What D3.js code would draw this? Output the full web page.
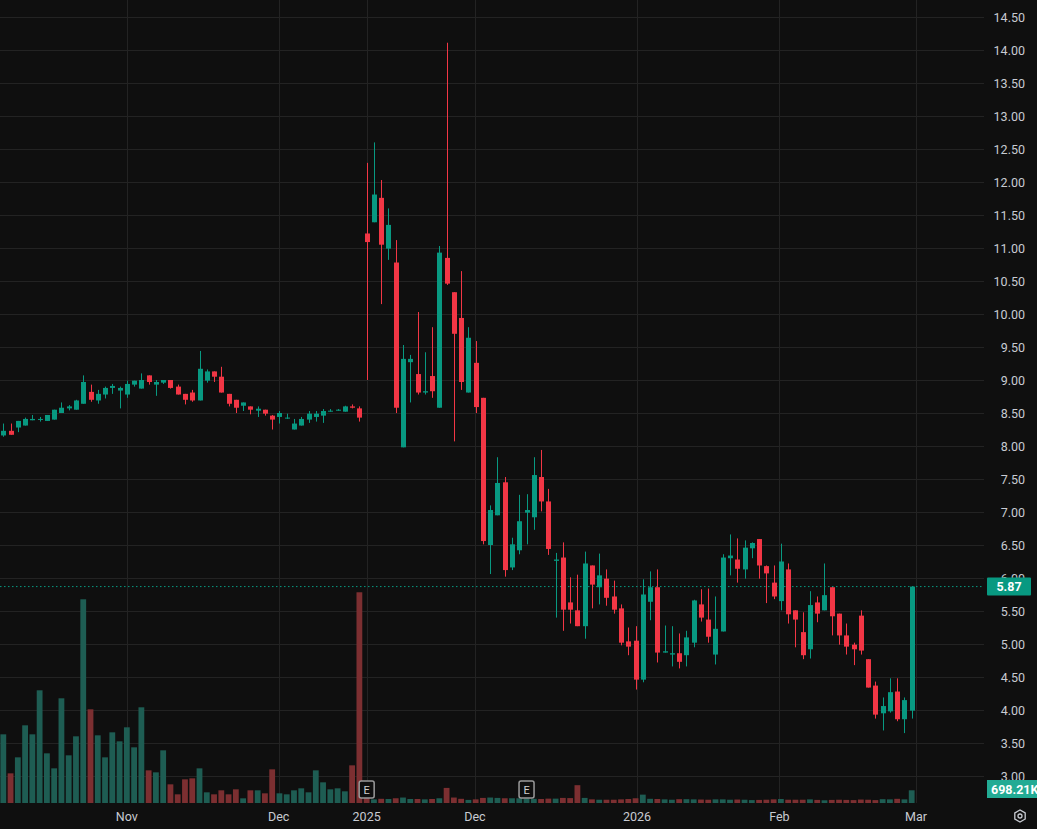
<!DOCTYPE html>
<html><head><meta charset="utf-8">
<script src="https://cdn.jsdelivr.net/npm/d3@7/dist/d3.min.js"></script>
<style>html,body{margin:0;padding:0;background:#0f0f0f;overflow:hidden}</style>
</head><body><svg id="c" width="1037" height="829"></svg>
<script>
// OHLC per bar (in price units)
const opens = [8.16,8.23,8.28,8.31,8.39,8.40,8.38,8.40,8.50,8.57,8.55,8.64,8.82,8.69,8.78,8.88,8.84,8.78,8.93,8.87,9.07,8.93,8.96,9.00,8.90,8.79,8.81,8.69,8.99,9.13,9.05,8.79,8.70,8.61,8.60,8.535,8.55,8.46,8.44,8.42,8.25,8.31,8.40,8.44,8.46,8.52,8.535,8.52,8.60,8.57,
 11.22,11.39,11.76,10.99,10.78,7.98,9.27,9.09,8.81,9.06,8.58,10.85,10.33,9.94,8.81,9.26,8.73,6.50,6.95,7.45,6.16,6.42,6.99,6.92,7.53,7.16,
 6.26,6.31,5.63,5.51,5.27,6.19,5.86,5.99,5.72,5.54,5.04,5.05,4.46,5.64,5.86,4.87,4.84,4.86,4.83,5.02,5.60,5.37,4.84,5.19,6.30,6.28,
 6.13,6.45,6.59,6.18,5.93,5.65,6.13,5.51,5.18,4.92,5.63,5.51,5.86,5.46,5.13,4.99,5.43,4.77,4.37,3.95,3.98,4.28,3.86,3.99];
const closes = [8.23,8.17,8.38,8.41,8.41,8.41,8.47,8.55,8.58,8.60,8.69,8.97,8.70,8.79,8.88,8.91,8.88,8.94,8.99,9.00,8.97,8.97,9.00,8.88,8.78,8.70,8.69,9.17,9.13,9.05,8.81,8.64,8.58,8.66,8.55,8.565,8.49,8.40,8.50,8.43,8.34,8.41,8.49,8.49,8.53,8.535,8.55,8.60,8.58,8.43,
 11.09,11.81,11.05,11.35,8.58,9.32,9.32,8.81,8.83,8.83,10.93,10.46,9.70,8.97,9.64,8.59,6.56,7.03,7.44,6.12,6.51,6.86,7.03,7.56,7.16,6.44,
 6.28,5.52,5.52,5.27,6.22,5.90,6.04,5.70,5.52,5.02,4.96,4.46,5.75,5.86,4.87,4.89,4.86,4.73,5.10,5.66,5.40,5.11,5.23,6.31,6.34,6.14,
 6.46,6.53,6.19,6.07,5.72,6.25,5.45,5.37,4.83,5.59,5.46,5.74,5.42,5.13,4.96,4.92,4.90,4.34,3.93,4.06,4.27,3.86,4.15,5.87];
const highs = [8.34,8.34,8.38,8.43,8.47,8.44,8.47,8.55,8.66,8.62,8.70,9.07,8.93,8.85,8.90,8.94,8.90,8.99,8.99,9.10,9.07,9.00,9.00,9.00,8.93,8.79,8.85,9.44,9.16,9.13,9.20,8.79,8.70,8.66,8.60,8.60,8.55,8.47,8.53,8.49,8.41,8.44,8.53,8.53,8.56,8.56,8.56,8.61,8.63,8.60,
 12.29,12.60,12.03,11.60,11.12,9.53,9.38,10.03,9.42,9.80,11.03,14.11,10.33,10.65,9.80,9.59,8.73,7.10,7.83,7.53,6.61,7.26,7.27,7.83,7.94,7.35,
 6.38,6.54,6.01,6.05,6.40,6.19,6.37,6.13,5.96,5.60,5.25,5.27,5.98,6.10,6.13,5.28,5.27,5.16,5.20,5.67,5.83,5.84,5.72,6.36,6.66,6.60,
 6.57,6.54,6.59,6.19,6.19,6.52,6.22,5.51,5.48,5.80,5.72,6.22,5.86,5.46,5.31,5.02,5.51,4.77,4.43,4.19,4.48,4.48,4.19,5.87];
const lows = [8.14,8.17,8.21,8.31,8.39,8.37,8.38,8.40,8.50,8.54,8.55,8.64,8.67,8.64,8.72,8.79,8.57,8.73,8.90,8.87,8.93,8.76,8.94,8.87,8.78,8.63,8.67,8.69,8.96,8.97,8.81,8.60,8.50,8.53,8.48,8.44,8.46,8.25,8.34,8.41,8.25,8.31,8.35,8.37,8.35,8.52,8.535,8.52,8.57,8.37,
 9.00,11.39,10.15,10.82,8.50,7.98,8.66,8.78,8.78,8.73,8.58,10.44,8.07,8.85,8.81,8.50,6.51,6.06,6.95,6.02,6.12,6.36,6.51,6.73,7.01,6.35,
 5.40,5.20,5.31,5.27,5.08,5.54,5.60,5.58,5.46,4.98,4.83,4.31,4.42,5.36,4.72,4.87,4.66,4.63,4.66,4.95,5.34,5.02,4.69,5.19,6.04,5.93,
 5.99,6.30,5.99,5.62,5.68,5.51,5.31,4.95,4.77,4.78,5.33,5.51,5.13,4.99,4.84,4.68,4.84,4.34,3.87,3.69,3.96,3.83,3.65,3.87];
// volume, thousands of shares
const volumes = [3776,1631,2511,4271,3776,6196,2731,1906,5756,2621,3666,11200,5151,3721,2511,3886,3391,4161,3061,5261,1796,1686,2896,1026,477,1301,1356,1906,587,477,697,477,752,257,697,697,532,1851,532,477,697,807,587,1796,1136,752,807,642,2071,11585,
 290,200,230,220,260,300,220,220,200,220,260,830,300,230,170,200,280,300,280,260,260,260,250,230,220,240,
 240,280,270,980,280,200,180,180,180,200,220,260,460,230,220,200,180,210,210,200,190,180,200,200,180,190,
 180,160,170,180,200,220,180,180,180,200,170,150,170,180,170,160,190,180,160,210,200,230,200,698.21];
const priceTicks = [3,3.5,4,4.5,5,5.5,6,6.5,7,7.5,8,8.5,9,9.5,10,10.5,11,11.5,12,12.5,13,13.5,14,14.5];
const timeTickIdx = [17,37.9,50,64.9,87.2,106.8,125.6];
const timeTickLabels = ["Nov","Dec","2025","Dec","2026","Feb","Mar"];
const earningsIdx = [50,72];
const lastPrice = 5.87, lastVolume = "698.21K";

const svg = d3.select("#c");
const W=1037,H=829, plotR=984;
const x = d3.scaleLinear().domain([0,125]).range([3.3,911.7]);
const y = d3.scaleLinear().domain([3,14.5]).range([776,17]);
const yv = d3.scaleLinear().domain([0,698.21]).range([803,790.3]);
const G="#089981", R="#f23645";
svg.append("rect").attr("width",W).attr("height",H).attr("fill","#0f0f0f");
const grid = svg.append("g").attr("stroke","#232323").attr("stroke-width",1);
grid.selectAll(".h").data(priceTicks).join("line").attr("x1",0).attr("x2",plotR)
  .attr("y1",d=>Math.round(y(d))+0.5).attr("y2",d=>Math.round(y(d))+0.5);
grid.selectAll(".v").data(timeTickIdx).join("line").attr("y1",0).attr("y2",803)
  .attr("x1",d=>Math.round(x(d))+0.5).attr("x2",d=>Math.round(x(d))+0.5);

const idx = d3.range(opens.length);
const up = i=>closes[i]>=opens[i];
// volume
svg.append("g").selectAll("rect").data(idx).join("rect")
  .attr("x",i=>x(i)-2.9).attr("width",5.8)
  .attr("y",i=>yv(volumes[i])).attr("height",i=>803-yv(volumes[i]))
  .attr("fill",i=>up(i)?"#1e5d53":"#7c2f31");
// last price line
svg.append("line").attr("x1",0).attr("x2",plotR).attr("y1",y(lastPrice)).attr("y2",y(lastPrice))
  .attr("stroke",G).attr("stroke-dasharray","1.5,2.5").attr("stroke-width",1);
// candles
const cg = svg.append("g");
cg.selectAll("line").data(idx).join("line")
  .attr("x1",i=>Math.round(x(i))+0.5).attr("x2",i=>Math.round(x(i))+0.5)
  .attr("y1",i=>y(highs[i])).attr("y2",i=>y(lows[i]))
  .attr("stroke",i=>up(i)?G:R).attr("stroke-width",1);
cg.selectAll("rect").data(idx).join("rect")
  .attr("x",i=>Math.round(x(i))-2).attr("width",5)
  .attr("y",i=>y(Math.max(opens[i],closes[i])))
  .attr("height",i=>Math.max(1,Math.abs(y(opens[i])-y(closes[i]))))
  .attr("fill",i=>up(i)?G:R);
// earnings markers
const eg = svg.append("g").selectAll("g").data(earningsIdx).join("g")
  .attr("transform",d=>`translate(${x(d)},789)`);
eg.append("rect").attr("x",-7.5).attr("y",-8).attr("width",15).attr("height",17).attr("rx",2)
  .attr("fill","#0f0f0f").attr("stroke","#9a9a9a").attr("stroke-width",1.5);
eg.append("text").text("E").attr("text-anchor","middle").attr("y",5).attr("fill","#d0d0d0")
  .attr("font-family","Roboto, sans-serif").attr("font-size",11);
// price axis
svg.append("g").selectAll("text").data(priceTicks).join("text")
  .attr("x",1025).attr("y",d=>y(d)+4.5).attr("text-anchor","end")
  .attr("fill","#c8cbd2").attr("font-family","Roboto, sans-serif").attr("font-size",12.5)
  .text(d=>d3.format(".2f")(d));
// time axis
svg.append("g").selectAll("text").data(timeTickIdx).join("text")
  .attr("x",d=>x(d)).attr("y",821).attr("text-anchor","middle")
  .attr("fill","#c8cbd2").attr("font-family","Roboto, sans-serif").attr("font-size",12.5)
  .text((d,i)=>timeTickLabels[i]);
// labels
svg.append("rect").attr("x",987).attr("y",y(lastPrice)-9).attr("width",44).attr("height",18).attr("rx",1).attr("fill",G);
svg.append("text").attr("x",1009).attr("y",y(lastPrice)+4.5).attr("text-anchor","middle").attr("fill","#fff")
  .attr("font-family","Roboto, sans-serif").attr("font-size",12.5).attr("font-weight","bold").text(d3.format(".2f")(lastPrice));
svg.append("rect").attr("x",987).attr("y",780).attr("width",56).attr("height",18).attr("fill","#22ab94");
svg.append("text").attr("x",991).attr("y",793.5).attr("fill","#fff")
  .attr("font-family","Roboto, sans-serif").attr("font-size",12.5).attr("font-weight","bold").text(lastVolume);
// settings icon
const gi = svg.append("g").attr("transform","translate(1020,816)");
gi.append("path").attr("d",d3.range(6).map((k,j)=>{const a=Math.PI/3*k+Math.PI/6;return (j?"L":"M")+(6*Math.cos(a))+","+(6*Math.sin(a));}).join("")+"Z")
  .attr("fill","none").attr("stroke","#c8cbd2").attr("stroke-width",1.3);
gi.append("circle").attr("r",2).attr("fill","none").attr("stroke","#c8cbd2").attr("stroke-width",1.3);
</script></body></html>
